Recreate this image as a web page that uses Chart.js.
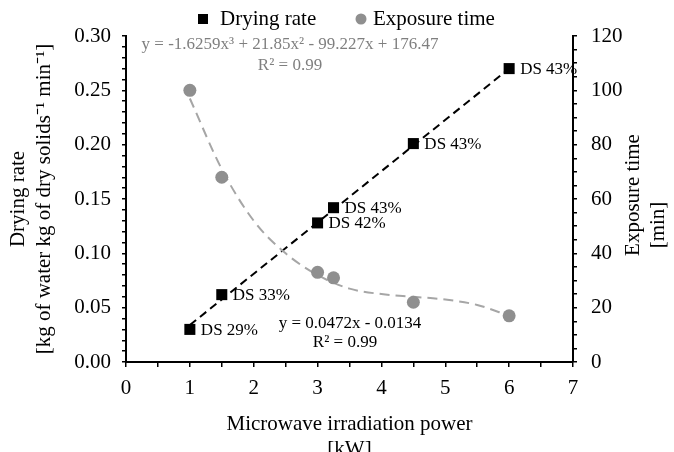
<!DOCTYPE html>
<html>
<head>
<meta charset="utf-8">
<script src="https://cdn.jsdelivr.net/npm/chart.js@4.4.0/dist/chart.umd.min.js"></script>
<style>
  html, body { margin: 0; padding: 0; background: #fff; }
</style>
</head>
<body>
<canvas id="myChart" width="674" height="452"></canvas>
<script>
// measured points
var power = [1, 1.5, 3, 3.25, 4.5, 6];
var dryingRate = [0.030, 0.062, 0.128, 0.142, 0.201, 0.270];
var exposureTime = [100, 68, 33, 31, 22, 17];
var dsLabels = ["DS 29%", "DS 33%", "DS 42%", "DS 43%", "DS 43%", "DS 43%"];

// trend lines
var rateTrendX = [1, 6];
var rateTrendY = [0.034, 0.270];
var timeTrendX = [1, 1.5, 2, 2.5, 3, 3.5, 4, 4.5, 5, 5.5, 6];
var timeTrendY = [97, 71, 52, 40, 32, 27, 25, 24, 23, 21, 17];

// tick labels
var xLabels = ["0", "1", "2", "3", "4", "5", "6", "7"];
var yLabels = ["0.00", "0.05", "0.10", "0.15", "0.20", "0.25", "0.30"];
var y2Labels = ["0", "20", "40", "60", "80", "100", "120"];

var FONT = "'Liberation Serif', 'Times New Roman', serif";
var GRAY = "#8f8f8f";

function pts(xs, ys) {
  return xs.map(function (x, i) { return { x: x, y: ys[i] }; });
}
function pick(labels, step) {
  return function (v) {
    var k = Math.round(v / step);
    return Math.abs(v - k * step) < 1e-6 ? labels[k] : "";
  };
}

var extras = {
  id: "extras",
  afterDatasetsDraw: function (chart) {
    var ctx = chart.ctx;
    var meta = chart.getDatasetMeta(2);
    ctx.save();
    ctx.fillStyle = "#000";
    ctx.font = "17px " + FONT;
    ctx.textBaseline = "middle";
    ctx.textAlign = "left";
    meta.data.forEach(function (p, i) {
      ctx.fillText(dsLabels[i], p.x + 11, p.y + 1);
    });
    ctx.restore();
  },
  afterDraw: function (chart) {
    var ctx = chart.ctx;
    var area = chart.chartArea;
    ctx.save();
    // legend
    ctx.font = "21px " + FONT;
    ctx.textBaseline = "middle";
    ctx.fillStyle = "#000";
    ctx.fillRect(198, 14, 10, 10);
    ctx.fillText("Drying rate", 220, 19);
    ctx.fillStyle = GRAY;
    ctx.beginPath();
    ctx.arc(361, 19, 5.5, 0, Math.PI * 2);
    ctx.fill();
    ctx.fillStyle = "#000";
    ctx.fillText("Exposure time", 373, 19);

    // trend equations
    ctx.textAlign = "center";
    ctx.font = "17px " + FONT;
    ctx.fillStyle = "#7f7f7f";
    ctx.fillText("y = -1.6259x³ + 21.85x² - 99.227x + 176.47", 290, 45);
    ctx.fillText("R² = 0.99", 290, 66);
    ctx.fillStyle = "#000";
    ctx.fillText("y = 0.0472x - 0.0134", 350, 324);
    ctx.fillText("R² = 0.99", 345, 343);

    // right axis title, reading bottom to top
    ctx.font = "21px " + FONT;
    var midY = (area.top + area.bottom) / 2;
    ctx.translate(area.right + 60, midY - 4);
    ctx.rotate(-Math.PI / 2);
    ctx.fillText("Exposure time", 0, 0);
    ctx.rotate(Math.PI / 2);
    ctx.translate(25, 30);
    ctx.rotate(-Math.PI / 2);
    ctx.fillText("[min]", 0, 0);
    ctx.restore();
  }
};

var tickFont = { family: FONT, size: 21 };

var myChart = new Chart(document.getElementById("myChart"), {
  type: "scatter",
  data: {
    datasets: [
      {
        label: "rate trend",
        type: "line",
        data: pts(rateTrendX, rateTrendY),
        yAxisID: "y",
        borderColor: "#000",
        borderWidth: 2,
        borderDash: [8, 5],
        pointRadius: 0,
        fill: false,
        order: 4
      },
      {
        label: "time trend",
        type: "line",
        data: pts(timeTrendX, timeTrendY),
        yAxisID: "y2",
        borderColor: "#a6a6a6",
        borderWidth: 2,
        borderDash: [10, 6],
        pointRadius: 0,
        tension: 0.4,
        cubicInterpolationMode: "monotone",
        fill: false,
        order: 3
      },
      {
        label: "Drying rate",
        data: pts(power, dryingRate),
        yAxisID: "y",
        pointStyle: "rect",
        pointRadius: 7.8,
        backgroundColor: "#000",
        borderColor: "#000",
        borderWidth: 0,
        order: 1
      },
      {
        label: "Exposure time",
        data: pts(power, exposureTime),
        yAxisID: "y2",
        pointStyle: "circle",
        pointRadius: 6.5,
        backgroundColor: GRAY,
        borderColor: GRAY,
        borderWidth: 0,
        order: 2
      }
    ]
  },
  options: {
    responsive: false,
    animation: false,
    devicePixelRatio: 1,
    layout: { padding: { top: 36, left: 0, right: 0, bottom: 0 } },
    plugins: {
      legend: { display: false },
      tooltip: { enabled: false }
    },
    scales: {
      x: {
        type: "linear",
        position: "bottom",
        min: 0,
        max: 7,
        afterFit: function (s) { s.height = 90; },
        ticks: {
          stepSize: 0.5,
          autoSkip: false,
          maxRotation: 0,
          padding: 9,
          color: "#000",
          font: tickFont,
          callback: pick(xLabels, 1)
        },
        grid: { drawOnChartArea: false, color: "#000", lineWidth: 1.5, tickLength: 5 },
        border: { color: "#000", width: 2 },
        title: {
          display: true,
          text: ["Microwave irradiation power", "[kW]"],
          color: "#000",
          font: { family: FONT, size: 21, lineHeight: 1.2 },
          padding: { top: 0, bottom: -10 }
        }
      },
      y: {
        type: "linear",
        position: "left",
        min: 0,
        max: 0.3,
        afterFit: function (s) { s.width = 126; },
        ticks: {
          stepSize: 0.01,
          autoSkip: false,
          maxTicksLimit: 100,
          padding: 11,
          color: "#000",
          font: tickFont,
          callback: pick(yLabels, 0.05)
        },
        grid: { drawOnChartArea: false, color: "#000", lineWidth: 1.5, tickLength: 4 },
        border: { color: "#000", width: 2 },
        title: {
          display: true,
          text: ["Drying rate", "[kg of water kg of dry solids⁻¹ min⁻¹]"],
          color: "#000",
          font: { family: FONT, size: 21, lineHeight: 1.25 },
          padding: { top: 5, bottom: 0 }
        }
      },
      y2: {
        type: "linear",
        position: "right",
        min: 0,
        max: 120,
        afterFit: function (s) { s.width = 101; },
        ticks: {
          stepSize: 5,
          autoSkip: false,
          maxTicksLimit: 100,
          padding: 14,
          color: "#000",
          font: tickFont,
          callback: pick(y2Labels, 20)
        },
        grid: { drawOnChartArea: false, color: "#000", lineWidth: 1.5, tickLength: 4 },
        border: { color: "#000", width: 2 }
      }
    }
  },
  plugins: [extras]
});
</script>
</body>
</html>
